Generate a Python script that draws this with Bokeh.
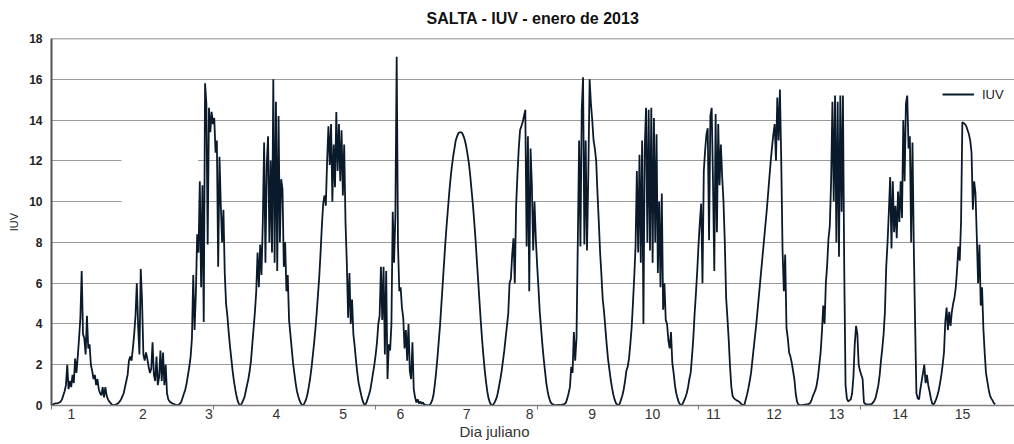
from bokeh.plotting import figure
from bokeh.models import (Range1d, FixedTicker, CustomJSTickFormatter, Span,
                          BoxAnnotation, Legend, LegendItem, Title)
from bokeh.embed import file_html
from bokeh.resources import INLINE

TITLE = "SALTA - IUV - enero de 2013"
X_LABEL = "Dia juliano"
Y_LABEL = "IUV"
SERIES = "IUV"
day_labels = [str(i) for i in range(1, 16)]
y_ticks = [0, 2, 4, 6, 8, 10, 12, 14, 16, 18]

# IUV readings, 48 samples per day (daylight window of each day)
d01 = [0.02, 0.05, 0.08, 0.1, 0.1, 0.12, 0.15, 0.2, 0.3, 0.5, 0.7, 1.0, 2.0, 0.8, 1.2, 0.9,
       1.5, 1.1, 2.3, 1.6, 2.4, 3.3, 4.3, 6.6, 3.5, 3.3, 2.5, 4.4, 2.8, 3.0, 2.0, 1.7,
       1.3, 1.5, 1.0, 1.3, 0.8, 0.6, 0.5, 0.9, 0.4, 0.9, 0.5, 0.3, 0.2, 0.12, 0.05, 0.02]
d02 = [0.02, 0.05, 0.08, 0.12, 0.2, 0.3, 0.45, 0.6, 0.9, 1.2, 1.5, 2.2, 2.4, 2.2, 2.8, 3.5,
       4.4, 6.0, 3.9, 2.5, 6.7, 5.1, 2.5, 2.2, 2.6, 2.3, 1.9, 1.6, 1.8, 3.1, 1.5, 1.2,
       2.4, 1.0, 1.4, 2.7, 1.2, 2.6, 1.0, 2.0, 0.6, 0.3, 0.2, 0.15, 0.1, 0.08, 0.05, 0.02]
d03 = [0.02, 0.05, 0.1, 0.2, 0.4, 0.6, 0.8, 1.1, 1.5, 1.9, 2.4, 3.3, 6.4, 3.7, 5.5, 8.4,
       7.5, 11.0, 5.8, 10.8, 4.1, 15.8, 14.8, 7.9, 14.6, 13.4, 14.4, 13.8, 14.1, 12.4, 13.0, 6.8,
       12.2, 9.8, 8.0, 9.6, 6.5, 5.0, 4.4, 3.6, 2.9, 2.3, 1.7, 1.2, 0.8, 0.45, 0.2, 0.05]
d04 = [0.02, 0.1, 0.25, 0.4, 0.7, 1.0, 1.3, 1.7, 2.2, 3.0, 3.8, 4.6, 5.6, 7.5, 5.8, 7.9,
       6.4, 9.0, 12.9, 7.0, 11.8, 13.2, 8.0, 12.0, 7.5, 16.0, 7.0, 14.9, 6.6, 14.2, 8.0, 11.1,
       10.6, 6.8, 8.0, 5.6, 6.4, 4.2, 3.5, 2.8, 2.1, 1.6, 1.1, 0.7, 0.45, 0.25, 0.1, 0.03]
d05 = [0.02, 0.15, 0.3, 0.55, 0.9, 1.3, 1.8, 2.4, 3.0, 3.7, 4.5, 5.4, 6.3, 7.5, 8.8, 9.9,
       10.3, 9.8, 12.0, 13.7, 11.8, 13.8, 10.0, 12.8, 10.7, 14.4, 11.5, 13.8, 11.0, 13.5, 10.3, 12.8,
       9.0, 7.0, 4.3, 6.5, 4.0, 5.2, 3.5, 2.9, 2.2, 1.6, 1.1, 0.8, 0.5, 0.25, 0.08, 0.02]
d06 = [0.15, 0.35, 0.55, 0.8, 1.2, 1.6, 2.0, 2.5, 3.1, 4.0, 4.4, 6.8, 4.2, 6.8, 2.5, 6.6,
       1.3, 3.0, 2.7, 4.0, 9.5, 7.0, 9.3, 17.1, 7.9, 5.6, 5.8, 4.8, 4.3, 2.8, 3.7, 2.2,
       4.0, 1.7, 1.3, 3.1, 0.8, 0.4, 0.15, 0.3, 0.1, 0.2, 0.08, 0.15, 0.05, 0.03, 0.02, 0.01]
d07 = [0.02, 0.1, 0.25, 0.5, 1.0, 1.6, 2.3, 3.1, 3.9, 4.9, 5.9, 6.9, 7.9, 8.8, 9.6, 10.4,
       11.1, 11.7, 12.2, 12.6, 13.0, 13.2, 13.35, 13.4, 13.4, 13.35, 13.2, 13.0, 12.7, 12.3, 11.9, 11.3,
       10.6, 9.9, 9.1, 8.2, 7.2, 6.2, 5.2, 4.2, 3.3, 2.5, 1.8, 1.2, 0.7, 0.35, 0.15, 0.04]
d08 = [0.02, 0.08, 0.2, 0.35, 0.6, 0.95, 1.3, 1.7, 2.2, 2.7, 3.3, 3.9, 4.5, 6.0, 6.2, 7.4,
       8.2, 6.0, 9.8, 11.3, 12.6, 13.5, 13.7, 13.9, 14.2, 14.5, 7.8, 13.2, 5.6, 12.6, 10.8, 7.6,
       10.0, 8.2, 6.9, 5.8, 4.6, 3.8, 3.0, 2.3, 1.7, 1.1, 0.7, 0.4, 0.2, 0.1, 0.05, 0.03]
d09 = [0.02, 0.02, 0.03, 0.03, 0.02, 0.04, 0.05, 0.08, 0.15, 0.35, 0.6, 0.9, 1.9, 1.6, 3.6, 2.2,
       3.3, 8.0, 13.0, 7.8, 14.5, 16.1, 7.9, 13.0, 7.6, 11.3, 16.0, 14.8, 14.0, 13.0, 12.6, 12.0,
       10.4, 9.0, 7.5, 6.4, 5.2, 4.6, 3.8, 3.0, 2.3, 1.8, 1.3, 0.9, 0.55, 0.3, 0.12, 0.05]
d10 = [0.02, 0.1, 0.3, 0.5, 0.8, 1.2, 1.7, 1.9, 2.3, 3.0, 3.8, 5.0, 6.3, 7.8, 11.5, 7.5,
       12.3, 7.0, 13.0, 4.0, 12.6, 14.6, 8.0, 14.5, 7.6, 14.6, 7.0, 14.1, 8.0, 13.3, 6.5, 10.0,
       5.8, 10.4, 4.7, 6.0, 4.2, 4.0, 3.2, 2.8, 3.6, 2.1, 1.6, 1.0, 0.6, 0.35, 0.15, 0.05]
d11 = [0.02, 0.1, 0.25, 0.4, 0.6, 0.9, 1.3, 1.6, 2.4, 3.3, 4.5, 5.5, 6.6, 7.9, 9.0, 9.9,
       6.0, 11.5, 12.5, 13.3, 13.6, 8.1, 14.2, 14.6, 11.0, 6.6, 14.3, 8.5, 13.8, 10.8, 12.8, 11.2,
       10.0, 8.0, 5.3, 4.3, 3.2, 1.9, 0.9, 0.45, 0.35, 0.3, 0.25, 0.22, 0.18, 0.12, 0.05, 0.02]
d12 = [0.05, 0.3, 0.55, 0.85, 1.2, 1.6, 2.2, 2.8, 3.4, 4.0, 4.7, 5.4, 6.1, 6.8, 7.5, 8.2,
       8.9, 9.6, 10.4, 11.2, 12.0, 12.7, 13.3, 13.8, 12.0, 15.1, 13.0, 15.5, 12.0, 7.6, 5.6, 7.4,
       3.8, 3.3, 2.6, 2.4, 2.1, 1.7, 1.3, 0.6, 0.2, 0.05, 0.03, 0.02, 0.02, 0.03, 0.04, 0.05]
d13 = [0.05, 0.08, 0.12, 0.25, 0.45, 0.6, 0.75, 1.0, 1.4, 2.0, 2.6, 3.6, 4.9, 4.0, 6.0, 6.9,
       8.2, 8.8, 11.0, 14.9, 10.0, 15.2, 8.0, 14.9, 7.3, 15.2, 9.5, 15.2, 6.7, 1.0, 0.35, 0.2,
       0.25, 0.3, 0.6, 1.4, 3.0, 3.9, 3.5, 2.0, 1.7, 1.5, 1.3, 0.15, 0.08, 0.05, 0.05, 0.06]
d14 = [0.05, 0.08, 0.15, 0.25, 0.4, 0.7, 1.0, 1.5, 2.2, 2.8, 3.5, 4.6, 6.8, 8.0, 9.5, 11.2,
       7.7, 11.0, 8.5, 9.8, 8.2, 10.5, 9.0, 11.0, 9.2, 14.0, 11.0, 14.8, 15.2, 12.6, 13.2, 8.0,
       12.9, 7.8, 4.0, 0.6, 0.35, 0.3, 0.8, 1.2, 1.6, 2.0, 1.1, 1.5, 1.0, 0.7, 0.35, 0.1]
d15 = [0.05, 0.15, 0.3, 0.5, 0.75, 1.1, 1.5, 2.0, 2.6, 4.1, 4.8, 3.7, 4.6, 3.9, 4.6, 5.0,
       5.3, 5.8, 6.7, 7.8, 7.1, 9.0, 13.9, 13.85, 13.8, 13.7, 13.5, 13.3, 13.0, 12.4, 9.6, 11.0,
       10.4, 8.3, 6.0, 7.9, 4.9, 5.8, 3.8, 2.6, 1.6, 1.2, 0.8, 0.5, 0.35, 0.25, 0.12, 0.05]
iuv_days = [d01, d02, d03, d04, d05, d06, d07, d08, d09, d10, d11, d12, d13, d14, d15]

# layout configuration (axis units = days)
day_label_pos = [0.317, 1.45, 2.50, 3.57, 4.63, 5.54, 6.59, 7.59, 8.58, 9.54,
                 10.51, 11.47, 12.46, 13.47, 14.46]
axis_marks = [0.0, 2.571, 5.143, 7.714, 10.27, 12.84]

xs, ys = [], []
for k, vals in enumerate(iuv_days):
    n = len(vals)
    for i, v in enumerate(vals):
        xs.append(k + i / n)
        ys.append(v)

FONT = "Liberation Sans"
p = figure(width=1014, height=444, output_backend="svg", toolbar_location=None,
           x_range=Range1d(0, 15.286), y_range=Range1d(0, 18),
           min_border_left=51, min_border_right=0, min_border_top=38, min_border_bottom=39)
p.background_fill_color = "white"
p.border_fill_color = "white"
p.outline_line_color = None

p.title.text = TITLE
p.title.align = "center"
p.title.vertical_align = "top"
p.title.text_font = FONT
p.title.text_font_size = "16px"
p.title.text_font_style = "bold"
p.title.text_color = "#111111"
p.title.standoff = 19

line = p.line(xs, ys, line_color="#0b1a2b", line_width=1.8)

# axes
p.xaxis.ticker = FixedTicker(ticks=day_label_pos, minor_ticks=axis_marks)
p.xaxis.formatter = CustomJSTickFormatter(args=dict(labels=day_labels), code="return labels[index];")
p.xaxis.major_tick_out = 0
p.xaxis.major_tick_in = 0
p.xaxis.minor_tick_out = 4
p.xaxis.minor_tick_in = 0
p.xaxis.minor_tick_line_color = "#777777"
p.xaxis.axis_line_color = "#808080"
p.xaxis.axis_line_width = 1.5
p.xaxis.major_label_text_font = FONT
p.xaxis.major_label_text_font_size = "14px"
p.xaxis.major_label_text_color = "#333333"
p.xaxis.major_label_standoff = -1

p.yaxis.ticker = FixedTicker(ticks=y_ticks)
p.yaxis.major_tick_out = 0
p.yaxis.major_tick_in = 0
p.yaxis.minor_tick_line_color = None
p.yaxis.axis_line_color = "#555555"
p.yaxis.axis_line_width = 2
p.yaxis.major_label_text_font = FONT
p.yaxis.major_label_text_font_size = "12px"
p.yaxis.major_label_text_font_style = "bold"
p.yaxis.major_label_text_color = "#222222"
p.yaxis.major_label_standoff = 9
p.yaxis.axis_label = Y_LABEL
p.yaxis.axis_label_text_font = FONT
p.yaxis.axis_label_text_font_size = "11px"
p.yaxis.axis_label_text_font_style = "normal"
p.yaxis.axis_label_text_color = "#222222"
p.yaxis.axis_label_standoff = 6

p.xgrid.visible = False
p.ygrid.ticker = FixedTicker(ticks=y_ticks)
p.ygrid.grid_line_color = "#9a9a9a"
p.ygrid.grid_line_width = 1

p.add_layout(Span(location=18, dimension="width", line_color="#666666", line_width=1.5))
p.add_layout(BoxAnnotation(left=1.111, right=2.325, bottom=9.5, top=12.5,
                           fill_color="white", fill_alpha=1.0, line_color=None))

p.add_layout(Title(text=X_LABEL, align="left", offset=408, standoff=-1,
                   text_font=FONT, text_font_size="15px", text_font_style="normal",
                   text_color="#333333"), "below")

legend = Legend(items=[LegendItem(label=SERIES, renderers=[line])], location=(891, 301),
                background_fill_alpha=0, border_line_color=None, padding=0, margin=0,
                glyph_width=32, label_standoff=8, label_text_font=FONT,
                label_text_font_size="13px", label_text_color="#222222")
p.add_layout(legend)

open("out.html", "w").write(file_html(p, INLINE))
